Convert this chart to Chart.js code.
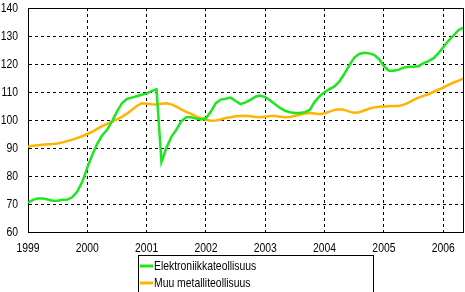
<!DOCTYPE html>
<html>
<head>
<meta charset="utf-8">
<script src="https://cdn.jsdelivr.net/npm/chart.js@4/dist/chart.umd.min.js"></script>
<style>
  html, body { margin: 0; padding: 0; background: #fff; }
  #wrap { width: 465px; height: 292px; }
</style>
</head>
<body>
<div id="wrap"><canvas id="chart" width="465" height="292"></canvas></div>
<script>
// monthly index values, Jan 1999 .. May 2006
const seriesNames = ['Elektroniikkateollisuus', 'Muu metalliteollisuus'];
const seriesColors = ['#1ee61e', '#ffb400'];
const yearLabels = ['1999', '2000', '2001', '2002', '2003', '2004', '2005', '2006'];

const electronics = [
  70.5, 71.5, 72, 72, 71.6, 71.2, 71.2, 71.5, 71.6, 72.5, 74.5, 78,
  83, 87.5, 91.5, 94.5, 96.5, 99.5, 103, 106, 107.5, 108, 108.5, 109,
  109.5, 110.3, 111, 85, 90, 94, 96.5, 99.5, 101, 101, 100.5, 100.2,
  100.6, 103, 106, 107.3, 107.6, 108, 106.8, 105.7, 106.3, 107.2, 108.3, 108.7,
  108.2, 107, 105.6, 104.3, 103.3, 102.8, 102.5, 102.5, 102.8, 103.6, 106.5, 108.5,
  110, 111, 112, 113.8, 116.5, 119.5, 122.3, 123.6, 124, 123.8, 123.3, 121.8,
  119.2, 117.6, 117.6, 118, 118.7, 119, 119, 119.2, 120.3, 121, 122, 123.8,
  126, 128.2, 130, 132, 133
];

const otherMetal = [
  90.5, 90.8, 91, 91.2, 91.3, 91.4, 91.6, 92, 92.5, 93, 93.6, 94.2,
  95, 95.8, 96.8, 97.8, 98.6, 99.4, 100.2, 101.1, 102.2, 103.6, 105, 106,
  105.8, 105.6, 105.5, 105.8, 106, 105.6, 104.8, 103.8, 102.9, 102.2, 101.3, 100.6,
  100.1, 99.7, 99.8, 100.2, 100.7, 101, 101.3, 101.4, 101.5, 101.3, 101.1, 101,
  101.2, 101.4, 101.4, 101.2, 101, 101.1, 101.5, 101.9, 102.3, 102.5, 102.3, 102.1,
  102.4, 103, 103.6, 103.8, 103.6, 103, 102.6, 102.8, 103.4, 104, 104.5, 104.7,
  104.8, 104.9, 105, 105, 105.5, 106.2, 107.2, 108, 108.6, 109.2, 110, 110.8,
  111.6, 112.5, 113.3, 114, 114.8
];

const FONT = "13px 'Liberation Sans', Arial, sans-serif";
const SQUEEZE = 0.8; // the original uses a narrow face

const toPoints = arr => arr.map((v, i) => ({ x: i, y: v }));

// draw text horizontally condensed
function narrowText(ctx, text, x, y, align) {
  ctx.save();
  ctx.font = FONT;
  ctx.textAlign = align;
  ctx.textBaseline = 'middle';
  ctx.fillStyle = '#000';
  ctx.scale(SQUEEZE, 1);
  ctx.fillText(text, x / SQUEEZE, y);
  ctx.restore();
}

// solid frame around the plot, narrow tick labels and a boxed legend below
const framePlugin = {
  id: 'frame',
  beforeDatasetsDraw(chart) {
    const { ctx, chartArea: a } = chart;
    ctx.save();
    ctx.strokeStyle = '#000';
    ctx.lineWidth = 1;
    ctx.setLineDash([]);
    ctx.strokeRect(Math.round(a.left) + 0.5, Math.round(a.top) + 0.5,
      Math.round(a.right - a.left), Math.round(a.bottom - a.top));
    ctx.restore();
  },
  afterDraw(chart) {
    const ctx = chart.ctx;
    const xs = chart.scales.x, ys = chart.scales.y;
    ys.ticks.forEach(t => narrowText(ctx, String(t.value), ys.right - 10, ys.getPixelForValue(t.value) + 0.5, 'right'));
    xs.ticks.forEach(t => narrowText(ctx, yearLabels[t.value / 12], xs.getPixelForValue(t.value), xs.top + 16, 'center'));

    ctx.save();
    ctx.strokeStyle = '#000';
    ctx.lineWidth = 1;
    ctx.strokeRect(138.5, 255.5, 235, 50);
    chart.data.datasets.forEach((ds, i) => {
      const y = 266 + i * 17;
      ctx.strokeStyle = ds.borderColor;
      ctx.lineWidth = 3;
      ctx.beginPath();
      ctx.moveTo(140, y);
      ctx.lineTo(153, y);
      ctx.stroke();
      narrowText(ctx, ds.label, 154, y + 0.5, 'left');
    });
    ctx.restore();
  }
};

new Chart(document.getElementById('chart'), {
  type: 'line',
  data: {
    datasets: [
      { label: seriesNames[0], data: toPoints(electronics), borderColor: seriesColors[0] },
      { label: seriesNames[1], data: toPoints(otherMetal), borderColor: seriesColors[1] }
    ]
  },
  options: {
    responsive: false,
    animation: false,
    layout: { padding: { top: 8, right: 2, left: 0, bottom: 0 } },
    elements: {
      line: { borderWidth: 2.5, tension: 0, fill: false },
      point: { radius: 0 }
    },
    plugins: { legend: { display: false }, tooltip: { enabled: false } },
    scales: {
      x: {
        type: 'linear',
        min: 0,
        max: electronics.length - 1,
        afterFit: s => { s.height = 60; },
        grid: { color: '#000', lineWidth: 1, drawTicks: false },
        border: { display: true, color: '#000', width: 1, dash: [3, 3] },
        ticks: { stepSize: 12, includeBounds: false, display: false }
      },
      y: {
        min: 60,
        max: 140,
        afterFit: s => { s.width = 28; },
        grid: { color: '#000', lineWidth: 1, drawTicks: false },
        border: { display: true, color: '#000', width: 1, dash: [3, 3] },
        ticks: { stepSize: 10, display: false }
      }
    }
  },
  plugins: [framePlugin]
});
</script>
</body>
</html>
